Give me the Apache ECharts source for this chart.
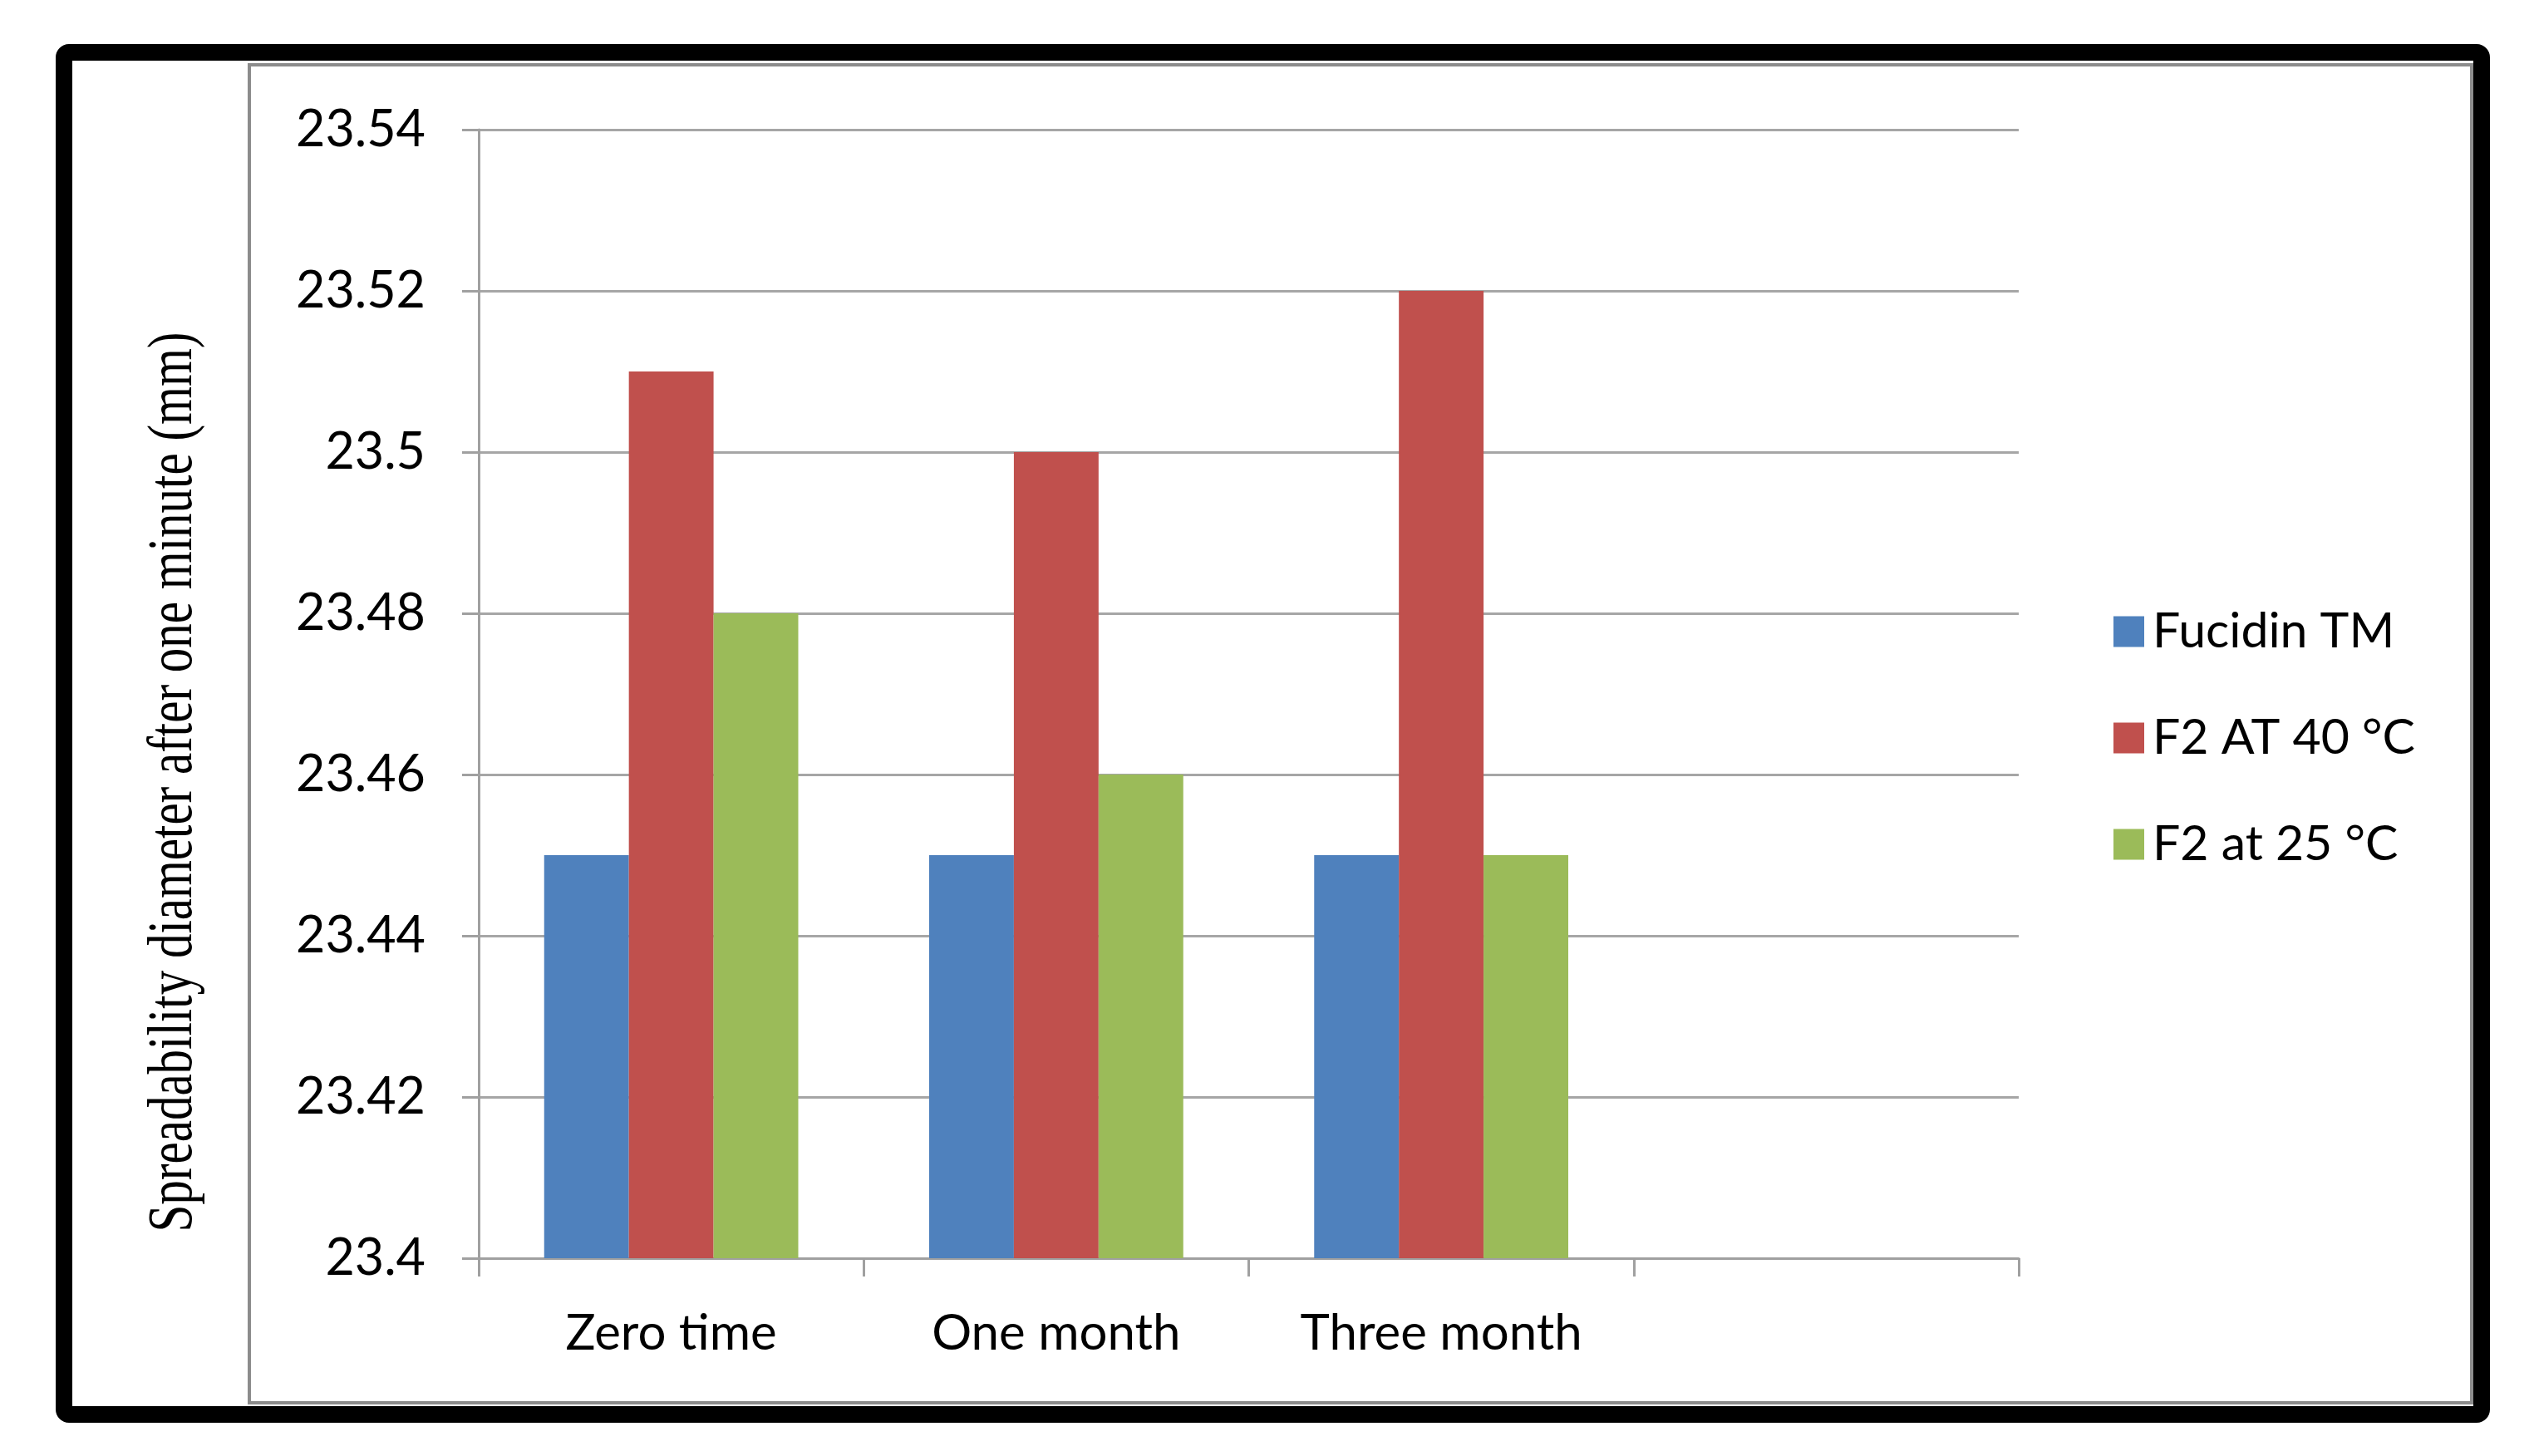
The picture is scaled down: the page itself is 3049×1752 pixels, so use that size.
<!DOCTYPE html>
<html>
<head>
<meta charset="utf-8">
<script src="https://cdn.jsdelivr.net/npm/echarts@6/dist/echarts.min.js"></script>
<style>
html,body{margin:0;padding:0;background:#fff;}
#c{width:3049px;height:1752px;}
</style>
</head>
<body>
<div id="c"></div>
<script>
var categories = ['Zero time', 'One month', 'Three month', ''];
var seriesNames = ['Fucidin TM', 'F2 AT 40 °C', 'F2 at 25 °C'];
var fucidin = [23.45, 23.45, 23.45, null];
var f2at40 = [23.51, 23.50, 23.52, null];
var f2at25 = [23.48, 23.46, 23.45, null];
var yTitle = 'Spreadability diameter after one minute (mm)';
var colors = ['#4F81BD', '#C0504D', '#9BBB59'];

var chart = echarts.init(document.getElementById('c'), null, {renderer: 'canvas'});
var axisGray = '#a0a0a0';
var labelFont = 'Lato';

var option = {
  backgroundColor: '#ffffff',
  animation: false,
  color: colors,
  grid: {left: 576, right: 620, top: 156, bottom: 238, containLabel: false},
  legend: {
    orient: 'vertical',
    left: 2538,
    top: 723,
    itemWidth: 37,
    itemHeight: 37,
    itemGap: 64,
    icon: 'rect',
    textStyle: {fontFamily: labelFont, fontSize: 59, color: '#000', lineHeight: 64, padding: [0, 0, 0, 5]},
    data: seriesNames
  },
  xAxis: {
    type: 'category',
    data: categories,
    axisLine: {lineStyle: {color: axisGray, width: 3}},
    axisTick: {show: true, length: 22, alignWithLabel: false, lineStyle: {color: axisGray, width: 3}},
    axisLabel: {fontFamily: labelFont, fontSize: 60, color: '#000', margin: 61, interval: 0}
  },
  yAxis: {
    type: 'value',
    min: 23.4,
    max: 23.54,
    interval: 0.02,
    axisLine: {show: true, lineStyle: {color: axisGray, width: 3}},
    axisTick: {show: true, length: 20, lineStyle: {color: axisGray, width: 3}},
    axisLabel: {fontFamily: labelFont, fontSize: 61, color: '#000', margin: 64},
    splitLine: {show: true, lineStyle: {color: '#a6a6a6', width: 3}}
  },
  series: [
    {name: seriesNames[0], type: 'bar', data: fucidin, barGap: '0%', barCategoryGap: '34%'},
    {name: seriesNames[1], type: 'bar', data: f2at40, barGap: '0%', barCategoryGap: '34%'},
    {name: seriesNames[2], type: 'bar', data: f2at25, barGap: '0%', barCategoryGap: '34%'}
  ],
  graphic: [
    {
      type: 'rect', z: 100, silent: true,
      shape: {x: 77, y: 63, width: 2909, height: 1639, r: 6},
      style: {fill: 'transparent', stroke: '#000', lineWidth: 20}
    },
    {
      type: 'rect', z: 90, silent: true,
      shape: {x: 300, y: 78, width: 2674, height: 1610},
      style: {fill: 'transparent', stroke: '#8c8c8c', lineWidth: 4}
    },
    {
      type: 'text', z: 95, silent: true,
      x: 210, y: 941,
      rotation: Math.PI / 2,
      scaleY: 1.3,
      style: {
        text: yTitle,
        fontFamily: '"Liberation Serif", "Times New Roman", serif',
        fontSize: 59,
        fill: '#000',
        align: 'center',
        verticalAlign: 'middle'
      }
    }
  ]
};
chart.setOption(option);
</script>
</body>
</html>
